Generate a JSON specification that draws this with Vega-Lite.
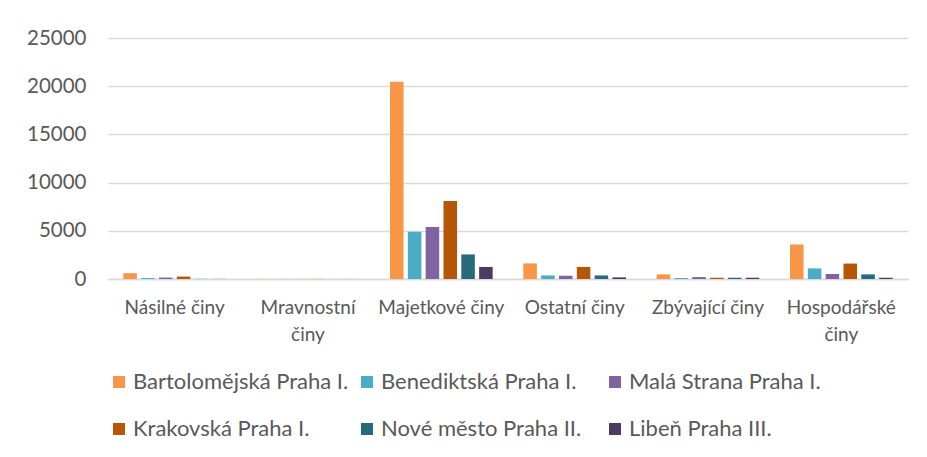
{
  "$schema": "https://vega.github.io/schema/vega-lite/v6.json",
  "width": 800,
  "height": 241,
  "autosize": {"type": "none"},
  "padding": {"left": 108, "top": 38, "right": 19, "bottom": 178},
  "background": "white",
  "config": {"view": {"stroke": null}, "font": "Lato"},
  "data": {
    "values": [
      {"cin": "Násilné činy", "stanice": "Bartolomějská Praha I.", "pocet": 600},
      {"cin": "Násilné činy", "stanice": "Benediktská Praha I.", "pocet": 100},
      {"cin": "Násilné činy", "stanice": "Malá Strana Praha I.", "pocet": 150},
      {"cin": "Násilné činy", "stanice": "Krakovská Praha I.", "pocet": 250},
      {"cin": "Násilné činy", "stanice": "Nové město Praha II.", "pocet": 15},
      {"cin": "Násilné činy", "stanice": "Libeň Praha III.", "pocet": 10},
      {"cin": "Mravnostní činy", "stanice": "Bartolomějská Praha I.", "pocet": 10},
      {"cin": "Mravnostní činy", "stanice": "Benediktská Praha I.", "pocet": 5},
      {"cin": "Mravnostní činy", "stanice": "Malá Strana Praha I.", "pocet": 5},
      {"cin": "Mravnostní činy", "stanice": "Krakovská Praha I.", "pocet": 10},
      {"cin": "Mravnostní činy", "stanice": "Nové město Praha II.", "pocet": 5},
      {"cin": "Mravnostní činy", "stanice": "Libeň Praha III.", "pocet": 5},
      {"cin": "Majetkové činy", "stanice": "Bartolomějská Praha I.", "pocet": 20450},
      {"cin": "Majetkové činy", "stanice": "Benediktská Praha I.", "pocet": 4900},
      {"cin": "Majetkové činy", "stanice": "Malá Strana Praha I.", "pocet": 5400},
      {"cin": "Majetkové činy", "stanice": "Krakovská Praha I.", "pocet": 8100},
      {"cin": "Majetkové činy", "stanice": "Nové město Praha II.", "pocet": 2550},
      {"cin": "Majetkové činy", "stanice": "Libeň Praha III.", "pocet": 1250},
      {"cin": "Ostatní činy", "stanice": "Bartolomějská Praha I.", "pocet": 1620},
      {"cin": "Ostatní činy", "stanice": "Benediktská Praha I.", "pocet": 370},
      {"cin": "Ostatní činy", "stanice": "Malá Strana Praha I.", "pocet": 340},
      {"cin": "Ostatní činy", "stanice": "Krakovská Praha I.", "pocet": 1250},
      {"cin": "Ostatní činy", "stanice": "Nové město Praha II.", "pocet": 370},
      {"cin": "Ostatní činy", "stanice": "Libeň Praha III.", "pocet": 170},
      {"cin": "Zbývající činy", "stanice": "Bartolomějská Praha I.", "pocet": 480},
      {"cin": "Zbývající činy", "stanice": "Benediktská Praha I.", "pocet": 100},
      {"cin": "Zbývající činy", "stanice": "Malá Strana Praha I.", "pocet": 200},
      {"cin": "Zbývající činy", "stanice": "Krakovská Praha I.", "pocet": 130},
      {"cin": "Zbývající činy", "stanice": "Nové město Praha II.", "pocet": 130},
      {"cin": "Zbývající činy", "stanice": "Libeň Praha III.", "pocet": 130},
      {"cin": "Hospodářské činy", "stanice": "Bartolomějská Praha I.", "pocet": 3580},
      {"cin": "Hospodářské činy", "stanice": "Benediktská Praha I.", "pocet": 1100},
      {"cin": "Hospodářské činy", "stanice": "Malá Strana Praha I.", "pocet": 520},
      {"cin": "Hospodářské činy", "stanice": "Krakovská Praha I.", "pocet": 1600},
      {"cin": "Hospodářské činy", "stanice": "Nové město Praha II.", "pocet": 480},
      {"cin": "Hospodářské činy", "stanice": "Libeň Praha III.", "pocet": 130}
    ]
  },
  "mark": {"type": "bar"},
  "encoding": {
    "x": {
      "field": "cin",
      "type": "nominal",
      "sort": ["Násilné činy", "Mravnostní činy", "Majetkové činy", "Ostatní činy", "Zbývající činy", "Hospodářské činy"],
      "scale": {"paddingInner": 0.23, "paddingOuter": 0.115},
      "axis": {
        "title": null,
        "labelAngle": 0,
        "ticks": false,
        "domain": true,
        "domainColor": "#d9d9d9",
        "domainWidth": 1.5,
        "labelFontSize": 19,
        "labelColor": "#595959",
        "labelPadding": 19,
        "labelLineHeight": 27,
        "labelExpr": "datum.label == 'Mravnostní činy' || datum.label == 'Hospodářské činy' ? split(datum.label, ' ') : datum.label"
      }
    },
    "xOffset": {
      "field": "stanice",
      "type": "nominal",
      "sort": ["Bartolomějská Praha I.", "Benediktská Praha I.", "Malá Strana Praha I.", "Krakovská Praha I.", "Nové město Praha II.", "Libeň Praha III."],
      "scale": {"paddingInner": 0.24, "paddingOuter": 0}
    },
    "y": {
      "field": "pocet",
      "type": "quantitative",
      "scale": {"domain": [0, 25000]},
      "axis": {
        "title": null,
        "values": [0, 5000, 10000, 15000, 20000, 25000],
        "format": "d",
        "domain": false,
        "ticks": false,
        "labelPadding": 22,
        "labelFontSize": 20.5,
        "labelColor": "#595959",
        "gridColor": "#d9d9d9",
        "gridWidth": 1.5
      }
    },
    "color": {
      "field": "stanice",
      "type": "nominal",
      "sort": ["Bartolomějská Praha I.", "Benediktská Praha I.", "Malá Strana Praha I.", "Krakovská Praha I.", "Nové město Praha II.", "Libeň Praha III."],
      "scale": {"range": ["#F79646", "#4BACC6", "#8064A2", "#B65708", "#276A7C", "#4D3B62"]},
      "legend": {
        "title": null,
        "orient": "none",
        "legendX": 0,
        "legendY": 333,
        "direction": "horizontal",
        "columns": 3,
        "gridAlign": "all",
        "columnPadding": 7,
        "rowPadding": 25,
        "symbolType": "square",
        "symbolSize": 144,
        "symbolStrokeWidth": 0,
        "labelOffset": 3,
        "labelFontSize": 22,
        "labelColor": "#595959",
        "labelLimit": 300
      }
    }
  }
}
